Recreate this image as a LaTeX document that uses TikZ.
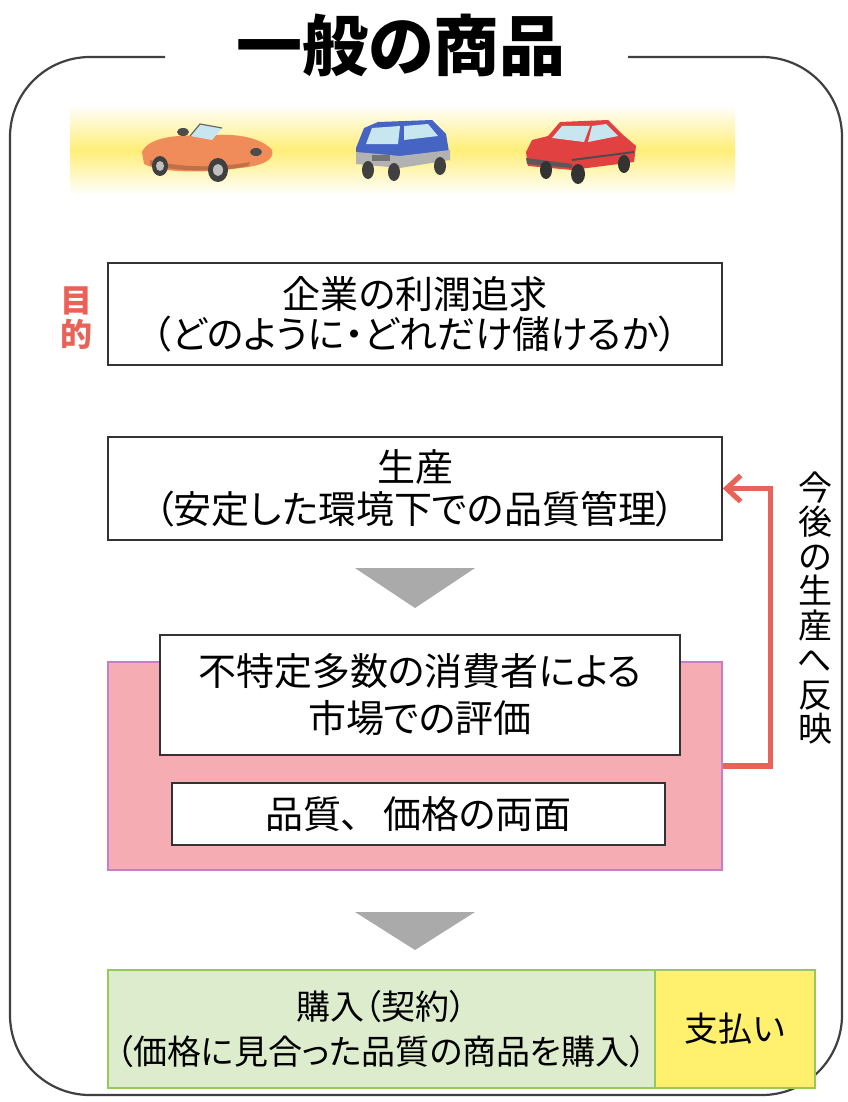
\documentclass[tikz,border=0pt]{standalone}
\usepackage{fontspec}
\setmainfont{Noto Sans CJK JP}[RawFeature=+palt]
\usetikzlibrary{arrows.meta, positioning}

\definecolor{bandyellow}{RGB}{255,238,120}
\definecolor{carorange}{RGB}{240,140,90}
\definecolor{carblue}{RGB}{70,100,195}
\definecolor{carred}{RGB}{225,65,65}
\definecolor{carglass}{RGB}{200,230,240}
\definecolor{markred}{RGB}{232,98,88}
\definecolor{evalpink}{RGB}{245,172,178}
\definecolor{evalborder}{RGB}{200,125,200}
\definecolor{buygreen}{RGB}{222,236,206}
\definecolor{buyborder}{RGB}{150,200,90}
\definecolor{payyellow}{RGB}{255,240,110}
\definecolor{stepgray}{RGB}{170,170,170}

\begin{document}
\begin{tikzpicture}[
    x=0.5pt, y=-0.5pt,
    frame/.style={draw=black!75, line width=1.1pt, rounded corners=40pt},
    title/.style={font=\fontsize{33pt}{36pt}\selectfont\bfseries, inner sep=0pt},
    textbox/.style={draw=black!80, fill=white, line width=0.8pt, align=center, inner sep=0pt,
        font=\fontsize{19pt}{20pt}\selectfont},
    evalbox/.style={draw=evalborder, fill=evalpink, line width=0.6pt, inner sep=0pt},
    buybox/.style={draw=buyborder, fill=buygreen, line width=0.8pt, align=center, inner sep=0pt,
        font=\fontsize{17pt}{22.5pt}\selectfont},
    paybox/.style={draw=buyborder, fill=payyellow, line width=0.8pt, inner sep=0pt,
        font=\fontsize{17pt}{20pt}\selectfont},
    purpose/.style={text=markred, align=center, font=\fontsize{16pt}{17pt}\selectfont\bfseries},
    vlabel/.style={align=center, font=\fontsize{17pt}{17.25pt}\selectfont},
    feedback/.style={draw=markred, line width=2.6pt, -{Straight Barb[length=7pt, width=13pt]}},
    down arrow/.style={fill=stepgray}
]
    \useasboundingbox (0,0) rectangle (847,1102);

    % ==================== FRAME AND TITLE ====================
    \node[title] (title) at (401,45) {一般の商品};
    \draw[frame] (165,57) -- (10,57) -- (10,1095) -- (842,1095) -- (842,57) -- (628,57);

    % ==================== CAR BAND ====================
    \shade[top color=white, bottom color=white, middle color=bandyellow] (70,105) rectangle (735,195);

    % orange convertible
    \fill[carorange] (142,152) .. controls (148,138) and (175,134) .. (205,136)
        .. controls (235,132) and (262,138) .. (272,150)
        .. controls (275,160) and (262,166) .. (240,168)
        .. controls (200,174) and (160,172) .. (144,164) -- cycle;
    \fill[carorange!80!black] (150,160) .. controls (180,168) and (220,168) .. (250,162)
        -- (248,166) .. controls (220,172) and (180,172) .. (150,165) -- cycle;
    \fill[carglass] (190,136) -- (200,124) -- (222,128) -- (212,140) -- cycle;
    \draw[black!60, line width=0.6pt] (190,136) -- (200,124) -- (222,128);
    \fill[black!70] (183,132) ellipse (6 and 4);
    \fill[black!75] (160,166) ellipse (8 and 10);
    \fill[black!75] (218,170) ellipse (10 and 12);
    \fill[black!25] (160,166) ellipse (4 and 5);
    \fill[black!25] (218,170) ellipse (5 and 6);
    \fill[black!70] (256,152) ellipse (6 and 4);

    % blue off-roader
    \fill[carblue] (356,148) -- (364,128) -- (378,122) -- (432,120) -- (446,134)
        -- (450,158) -- (402,166) -- (356,160) -- cycle;
    \fill[carglass] (366,144) -- (372,128) -- (400,126) -- (398,144) -- cycle;
    \fill[carglass] (404,126) -- (428,124) -- (438,136) -- (404,140) -- cycle;
    \fill[black!30] (356,152) -- (400,156) -- (450,150) -- (450,160) -- (400,168) -- (356,164) -- cycle;
    \fill[black!55] (372,155) rectangle (390,161);
    \fill[black!75] (368,170) ellipse (6 and 9);
    \fill[black!75] (394,172) ellipse (6 and 9);
    \fill[black!75] (440,166) ellipse (6 and 9);

    % red hatchback
    \fill[carred] (526,152) -- (532,140) -- (548,136) -- (560,122) -- (608,120) -- (622,134)
        -- (636,146) -- (634,162) -- (572,170) -- (528,166) -- cycle;
    \fill[carglass] (552,138) -- (562,126) -- (590,126) -- (584,142) -- cycle;
    \fill[carglass] (592,126) -- (606,124) -- (618,136) -- (588,142) -- cycle;
    \draw[black!70, line width=1pt] (572,160) -- (634,152);
    \fill[black!65] (526,158) -- (572,164) -- (572,168) -- (527,164) -- cycle;
    \fill[black!80] (546,170) ellipse (6 and 9);
    \fill[black!80] (578,174) ellipse (7 and 10);
    \fill[black!80] (624,164) ellipse (6 and 9);

    % ==================== FLOW ====================
    % Purpose
    \node[textbox, minimum width=307pt, minimum height=51pt] (goal) at (415,314)
        {企業の利潤追求\\（どのように・どれだけ儲けるか）};
    \node[purpose] (purpose) at (76,318) {目\\的};

    % Production
    \node[textbox, minimum width=307pt, minimum height=51.5pt,
        font=\fontsize{19pt}{21pt}\selectfont] (prod) at (415,488.5)
        {生産\\（安定した環境下での品質管理）};
    \fill[down arrow] (355,568) -- (475,568) -- (415,608) -- cycle;

    % Market evaluation
    \node[evalbox, minimum width=307pt, minimum height=104pt] (eval) at (415,766) {};
    \node[textbox, minimum width=260pt, minimum height=60pt,
        font=\fontsize{19pt}{23.5pt}\selectfont] (market) at (420,695)
        {不特定多数の消費者による\\市場での評価};
    \node[textbox, minimum width=246.5pt, minimum height=31pt] (both) at (418.5,814)
        {品質、\hspace{0.6em}価格の両面};
    \fill[down arrow] (355,912) -- (475,912) -- (415,950) -- cycle;

    % Purchase
    \node[buybox, minimum width=273.5pt, minimum height=59pt] (buy) at (381.5,1029)
        {購入（契約）\\（価格に見合った品質の商品を購入）};
    \node[paybox, minimum width=80pt, minimum height=59pt] (pay) at (735,1029) {支払い};

    % Feedback to production
    \draw[feedback] (eval.east) -- ++(48,0) |- (prod.east);
    \node[vlabel] (reflect) at (815,608) {今\\後\\の\\生\\産\\へ\\反\\映};
\end{tikzpicture}
\end{document}
